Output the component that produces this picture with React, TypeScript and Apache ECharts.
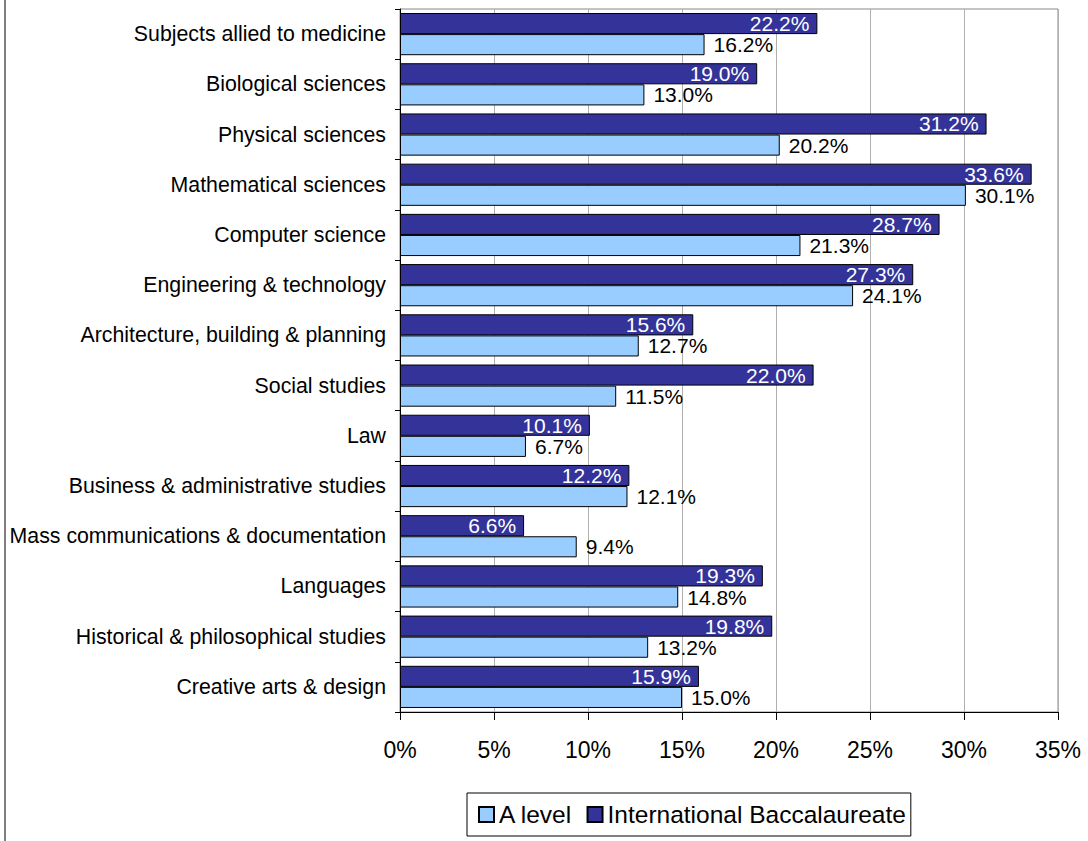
import React, { useEffect, useRef } from "react";
import * as echarts from "echarts";

const categories = [
  "Subjects allied to medicine",
  "Biological sciences",
  "Physical sciences",
  "Mathematical sciences",
  "Computer science",
  "Engineering & technology",
  "Architecture, building & planning",
  "Social studies",
  "Law",
  "Business & administrative studies",
  "Mass communications & documentation",
  "Languages",
  "Historical & philosophical studies",
  "Creative arts & design",
];
const ibValues = [22.2, 19.0, 31.2, 33.6, 28.7, 27.3, 15.6, 22.0, 10.1, 12.2, 6.6, 19.3, 19.8, 15.9];
const aLevelValues = [16.2, 13.0, 20.2, 30.1, 21.3, 24.1, 12.7, 11.5, 6.7, 12.1, 9.4, 14.8, 13.2, 15.0];
const seriesNames = ["A level", "International Baccalaureate"];

const FONT = "Liberation Sans, Arial, sans-serif";

export default function App() {
  const ref = useRef<HTMLDivElement>(null);
  useEffect(() => {
    const chart = echarts.init(ref.current!, undefined, { renderer: "svg" });
    chart.setOption({
      animation: false,
      textStyle: { fontFamily: FONT },
      graphic: [
        {
          type: "rect",
          shape: { x: 5, y: -5, width: 1200, height: 900 },
          style: { fill: "none", stroke: "#000", lineWidth: 1 },
          silent: true,
        },
      ],
      grid: { left: 400, right: 30, top: 9, bottom: 129, show: true, borderColor: "#888", borderWidth: 1 },
      legend: {
        data: seriesNames,
        left: 467,
        top: 793,
        padding: [9, 5, 9, 11],
        borderColor: "#000",
        borderWidth: 1,
        itemWidth: 15,
        itemHeight: 15,
        itemGap: 14,
        icon: "rect",
        textStyle: { fontFamily: FONT, fontSize: 24.5, color: "#000" },
      },
      xAxis: {
        type: "value",
        min: 0,
        max: 35,
        interval: 5,
        axisLine: { show: true, lineStyle: { color: "#000" } },
        axisTick: { show: true, length: 8, lineStyle: { color: "#000" } },
        splitLine: { show: true, lineStyle: { color: "#b0b0b0" } },
        axisLabel: { formatter: (v: number) => v + "%", fontSize: 23, color: "#000", margin: 26, fontFamily: FONT },
      },
      yAxis: {
        type: "category",
        data: categories,
        inverse: true,
        axisLine: { show: true, lineStyle: { color: "#000" } },
        axisTick: { show: true, length: 5, lineStyle: { color: "#000" } },
        axisLabel: { fontSize: 21.3, color: "#000", margin: 14, fontFamily: FONT },
      },
      series: [
        {
          name: "International Baccalaureate",
          type: "bar",
          data: ibValues,
          barGap: "0%",
          barCategoryGap: "16%",
          itemStyle: { color: "#333399", borderColor: "#000", borderWidth: 1 },
          label: {
            show: true,
            position: "insideRight",
            distance: 8,
            color: "#fff",
            fontSize: 21,
            lineHeight: 18,
            fontFamily: FONT,
            formatter: (p: any) => p.value.toFixed(1) + "%",
          },
        },
        {
          name: "A level",
          type: "bar",
          data: aLevelValues,
          barGap: "0%",
          barCategoryGap: "16%",
          itemStyle: { color: "#99ccff", borderColor: "#000", borderWidth: 1 },
          label: {
            show: true,
            position: "right",
            distance: 9,
            offset: [0, 0],
            color: "#000",
            fontSize: 21,
            lineHeight: 18,
            fontFamily: FONT,
            formatter: (p: any) => p.value.toFixed(1) + "%",
          },
        },
      ],
    });
    return () => chart.dispose();
  }, []);
  return (
    <div
      ref={ref}
      style={{ position: "fixed", left: 0, top: 0, width: 1088, height: 841, background: "#fff" }}
    />
  );
}
